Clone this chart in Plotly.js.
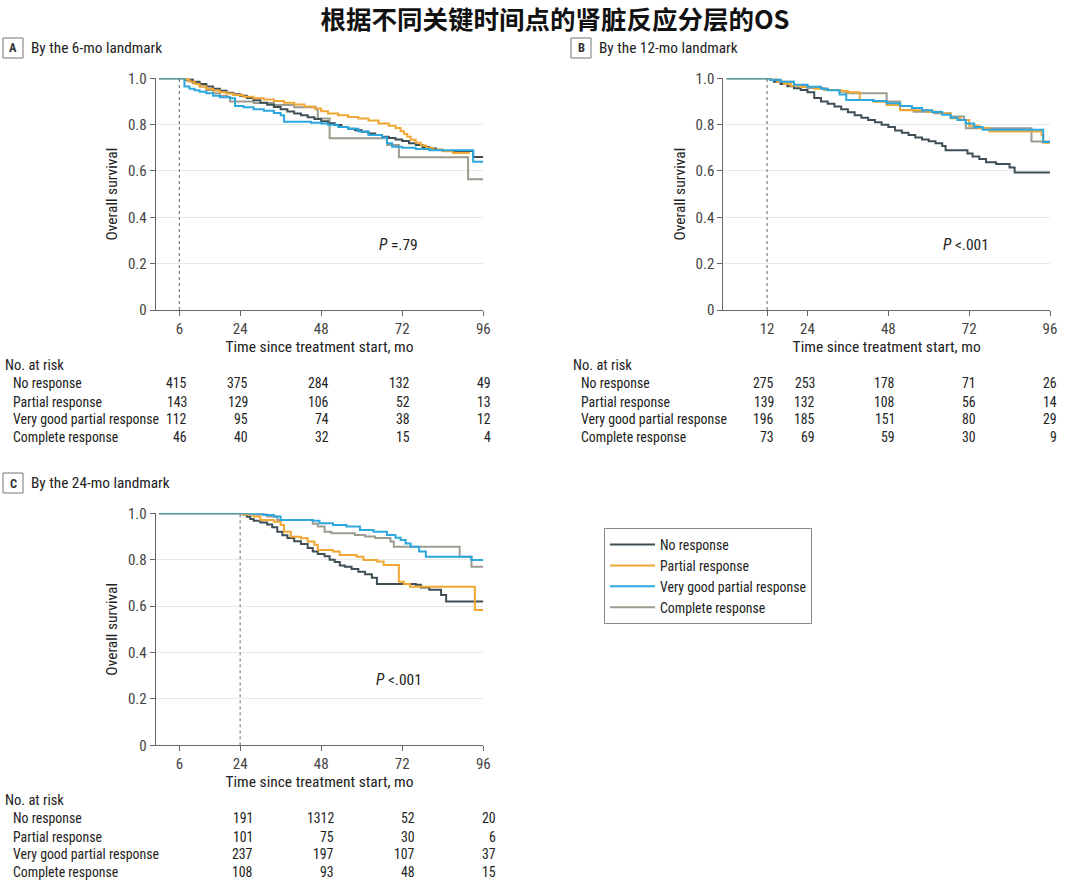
<!DOCTYPE html>
<html>
<head>
<meta charset="utf-8">
<script src="https://cdn.plot.ly/plotly-3.0.1.min.js"></script>
<style>html,body{margin:0;padding:0;background:#fff;}#chart{width:1080px;height:882px;}</style>
</head>
<body>
<div id="chart"></div>
<script>
// ---------------- DATA ----------------
const groups = ['No response', 'Partial response', 'Very good partial response', 'Complete response'];
const landmarks = [6, 12, 24];
const pTexts = ['<i>P</i> =.79', '<i>P</i> <.001', '<i>P</i> <.001'];

// Panel A (6-mo landmark)
const aNoT = [0, 8, 10, 12, 14, 16, 18, 20, 22, 24, 26, 28, 30, 32, 34, 36, 38, 40, 42, 44, 46, 48, 50, 52, 54, 56, 58, 60, 62, 64, 66, 68, 70, 72, 74, 76, 78, 80, 82, 84, 93, 96];
const aNoS = [1, 0.995, 0.985, 0.975, 0.965, 0.955, 0.946, 0.938, 0.931, 0.925, 0.915, 0.905, 0.895, 0.886, 0.876, 0.866, 0.857, 0.848, 0.84, 0.832, 0.824, 0.815, 0.806, 0.798, 0.79, 0.782, 0.776, 0.769, 0.762, 0.755, 0.748, 0.742, 0.736, 0.729, 0.72, 0.712, 0.704, 0.697, 0.692, 0.686, 0.66, 0.66];
const aPrT = [0, 8, 9, 10.5, 12, 14, 16, 18, 20, 22, 25, 28, 31, 34, 37, 40, 43, 46, 48, 50, 53, 56, 59, 62, 65, 68, 70, 71.5, 72.5, 73.5, 74.5, 76, 77.5, 79, 81, 84, 87, 92];
const aPrS = [1, 0.995, 0.985, 0.975, 0.965, 0.955, 0.947, 0.94, 0.934, 0.928, 0.92, 0.914, 0.908, 0.902, 0.895, 0.887, 0.878, 0.87, 0.858, 0.848, 0.84, 0.833, 0.826, 0.818, 0.805, 0.795, 0.785, 0.772, 0.76, 0.748, 0.735, 0.722, 0.71, 0.7, 0.692, 0.685, 0.678, 0.678];
const aVgT = [0, 7.5, 9, 10.5, 12, 14, 16, 18, 21, 22.5, 25, 28, 31, 34, 36, 37, 45, 48, 50, 53, 56, 59, 62, 66, 67.5, 69, 72, 76, 80, 93, 96];
const aVgS = [1, 0.965, 0.955, 0.948, 0.942, 0.935, 0.925, 0.918, 0.914, 0.88, 0.875, 0.866, 0.86, 0.85, 0.84, 0.812, 0.808, 0.805, 0.8, 0.79, 0.782, 0.77, 0.755, 0.745, 0.72, 0.705, 0.7, 0.695, 0.69, 0.64, 0.64];
const aCrT = [0, 8, 10, 12, 14, 16, 18, 20, 21, 28, 34, 40, 46.5, 47, 50.5, 67.5, 71, 91.5, 96];
const aCrS = [1, 0.99, 0.98, 0.965, 0.95, 0.935, 0.925, 0.92, 0.9, 0.893, 0.885, 0.875, 0.865, 0.827, 0.741, 0.712, 0.659, 0.564, 0.564];

// Panel B (12-mo landmark)
const bNoT = [0, 13, 14, 16, 18, 20, 22, 24, 26, 28, 30, 32, 34, 36, 38, 40, 42, 44, 46, 48, 50, 52, 54, 56, 58, 60, 62, 64, 65, 71.5, 73, 75, 77, 80, 84, 85.5, 96];
const bNoS = [1, 0.993, 0.985, 0.975, 0.966, 0.957, 0.95, 0.94, 0.915, 0.9, 0.89, 0.878, 0.866, 0.853, 0.84, 0.83, 0.82, 0.81, 0.8, 0.79, 0.775, 0.765, 0.755, 0.744, 0.736, 0.728, 0.72, 0.708, 0.69, 0.675, 0.662, 0.652, 0.638, 0.63, 0.615, 0.593, 0.593];
const bPrT = [0, 13, 15, 17, 19, 22, 26, 30, 34, 36, 39.5, 43.5, 47.5, 51.5, 59.5, 63.5, 66.5, 69.5, 72, 75, 78, 93.5, 94, 96];
const bPrS = [1, 0.995, 0.985, 0.975, 0.968, 0.962, 0.955, 0.95, 0.945, 0.94, 0.906, 0.899, 0.885, 0.862, 0.856, 0.848, 0.828, 0.82, 0.795, 0.785, 0.77, 0.755, 0.722, 0.722];
const bVgT = [0, 13, 16, 20, 24, 28, 30, 33.5, 35.5, 43.5, 47.5, 51.5, 55, 58, 61, 64, 66.5, 68.5, 71, 73.5, 76, 94, 96];
const bVgS = [1, 0.993, 0.985, 0.972, 0.963, 0.955, 0.948, 0.93, 0.906, 0.902, 0.892, 0.88, 0.872, 0.862, 0.855, 0.843, 0.83, 0.82, 0.805, 0.79, 0.778, 0.725, 0.725];
const bCrT = [0, 13, 16, 20, 24, 29, 33.5, 35.5, 45.5, 47.5, 51.5, 55.5, 61.5, 66.5, 70.5, 71, 90.5, 96];
const bCrS = [1, 0.995, 0.985, 0.97, 0.958, 0.95, 0.942, 0.935, 0.935, 0.9, 0.863, 0.856, 0.849, 0.835, 0.82, 0.784, 0.727, 0.727];

// Panel C (24-mo landmark)
const cNoT = [0, 25, 26, 27, 28, 30, 32, 33.5, 35, 36.5, 38, 40, 42, 44, 45.5, 47, 49, 50.5, 52, 53.5, 55, 57, 59, 61, 63, 64.5, 76, 77.5, 80, 83.5, 85, 96];
const cNoS = [1, 0.995, 0.985, 0.975, 0.968, 0.96, 0.952, 0.94, 0.92, 0.905, 0.893, 0.88, 0.868, 0.85, 0.835, 0.825, 0.815, 0.8, 0.79, 0.775, 0.77, 0.76, 0.748, 0.737, 0.722, 0.695, 0.692, 0.68, 0.67, 0.648, 0.62, 0.62];
const cPrT = [0, 25, 28, 30, 34, 36, 37, 39, 42, 44, 46, 47, 51.5, 53.5, 58.5, 60.5, 64.5, 66.5, 70.5, 71, 72.5, 74.3, 93.5, 96];
const cPrS = [1, 0.995, 0.986, 0.971, 0.964, 0.95, 0.921, 0.899, 0.892, 0.878, 0.864, 0.842, 0.835, 0.82, 0.813, 0.799, 0.792, 0.777, 0.777, 0.705, 0.695, 0.683, 0.583, 0.583];
const cVgT = [0, 27, 31, 34, 36, 45.5, 47.5, 51.5, 55.5, 59.5, 63.5, 67.5, 70, 71.5, 73, 74.5, 77, 79, 92.5, 96];
const cVgS = [1, 0.998, 0.993, 0.986, 0.971, 0.968, 0.957, 0.95, 0.943, 0.928, 0.921, 0.907, 0.895, 0.885, 0.87, 0.856, 0.835, 0.813, 0.799, 0.799];
const cCrT = [0, 27, 32, 35, 45.5, 47, 49, 51, 58, 61, 64, 68.5, 69.5, 89, 92.5, 96];
const cCrS = [1, 0.995, 0.986, 0.971, 0.955, 0.943, 0.921, 0.914, 0.907, 0.9, 0.893, 0.878, 0.856, 0.813, 0.77, 0.77];

// Number at risk tables
const riskTimesA = [6, 24, 48, 72, 96];
const riskA_No = [415, 375, 284, 132, 49];
const riskA_Pr = [143, 129, 106, 52, 13];
const riskA_Vg = [112, 95, 74, 38, 12];
const riskA_Cr = [46, 40, 32, 15, 4];
const riskTimesB = [12, 24, 48, 72, 96];
const riskB_No = [275, 253, 178, 71, 26];
const riskB_Pr = [139, 132, 108, 56, 14];
const riskB_Vg = [196, 185, 151, 80, 29];
const riskB_Cr = [73, 69, 59, 30, 9];
const riskTimesC = [24, 48, 72, 96];
const riskC_No = [191, 1312, 52, 20];
const riskC_Pr = [101, 75, 30, 6];
const riskC_Vg = [237, 197, 107, 37];
const riskC_Cr = [108, 93, 48, 15];

const xTicksA = [6, 24, 48, 72, 96];
const xTicksB = [12, 24, 48, 72, 96];
const xTicksC = [6, 24, 48, 72, 96];
const yTicks = [0, 0.2, 0.4, 0.6, 0.8, 1.0];
const yTickText = ['0', '0.2', '0.4', '0.6', '0.8', '1.0'];

// ---------------- STYLE ----------------
const W = 1080, H = 882;
const FONT = '"Roboto Condensed", "Liberation Sans Narrow", "DejaVu Sans Condensed", Roboto, sans-serif';
const colors = ['#3f4f56', '#f0a733', '#2ca8df', '#9c9b90'];
const px = v => v / W;
const py = v => 1 - v / H;

const traces = [];
function addPanel(xa, ya, sets, showLeg) {
  const order = [3, 0, 1, 2];
  order.forEach(i => {
    traces.push({
      x: sets[i][0], y: sets[i][1], type: 'scatter', mode: 'lines',
      line: {shape: 'hv', color: colors[i], width: 2},
      xaxis: xa, yaxis: ya, name: groups[i], legendgroup: groups[i],
      legendrank: i + 1, showlegend: showLeg, cliponaxis: false, hoverinfo: 'skip'
    });
  });
}
addPanel('x', 'y', [[aNoT, aNoS], [aPrT, aPrS], [aVgT, aVgS], [aCrT, aCrS]], false);
addPanel('x2', 'y2', [[bNoT, bNoS], [bPrT, bPrS], [bVgT, bVgS], [bCrT, bCrS]], false);
addPanel('x3', 'y3', [[cNoT, cNoS], [cPrT, cPrS], [cVgT, cVgS], [cCrT, cCrS]], true);

function xAxis(domain, ticks, anchor) {
  return {
    domain: domain, range: [-1, 96], tickvals: ticks, ticks: 'outside', ticklen: 5,
    tickcolor: '#666', showline: true, linecolor: '#666', linewidth: 1,
    showgrid: false, zeroline: false, anchor: anchor, automargin: false,
    tickfont: {size: 15, color: '#444'},
    title: {text: 'Time since treatment start, mo', font: {size: 15.5, color: '#222'}, standoff: 3}
  };
}
function yAxis(domain, anchor) {
  return {
    domain: domain, range: [0, 1], tickvals: yTicks, ticktext: yTickText,
    ticks: 'outside', ticklen: 5, tickcolor: '#666', showline: true, linecolor: '#666',
    linewidth: 1, showgrid: true, gridcolor: '#e9e9e9', gridwidth: 1, zeroline: false,
    anchor: anchor, automargin: false, tickfont: {size: 15, color: '#444'},
    title: {text: 'Overall survival', font: {size: 15.5, color: '#222'}, standoff: 6}
  };
}

const domXA = [px(155.7), px(483.3)];
const domXB = [px(723.3), px(1050)];
const domYtop = [py(310), py(78.3)];
const domYbot = [py(745.3), py(513.3)];

const annotations = [];
const shapes = [];

const panelLabels = [
  {letter: 'A', text: 'By the 6-mo landmark', bx: 3, by: 38},
  {letter: 'B', text: 'By the 12-mo landmark', bx: 571, by: 38},
  {letter: 'C', text: 'By the 24-mo landmark', bx: 3, by: 473}
];
panelLabels.forEach(p => {
  shapes.push({type: 'rect', xref: 'paper', yref: 'paper', x0: px(p.bx), x1: px(p.bx + 20),
    y0: py(p.by + 20), y1: py(p.by), line: {color: '#777', width: 1}, fillcolor: 'rgba(0,0,0,0)'});
  annotations.push({xref: 'paper', yref: 'paper', x: px(p.bx + 10), y: py(p.by + 10), xanchor: 'center',
    yanchor: 'middle', text: '<b>' + p.letter + '</b>', showarrow: false, font: {size: 12.5, color: '#333'}});
  annotations.push({xref: 'paper', yref: 'paper', x: px(p.bx + 26), y: py(p.by + 10), xanchor: 'left',
    yanchor: 'middle', text: p.text, showarrow: false, font: {size: 15.3, color: '#222'}});
});

[['x', 'y'], ['x2', 'y2'], ['x3', 'y3']].forEach((ax, i) => {
  shapes.push({type: 'line', xref: ax[0], yref: ax[1], x0: landmarks[i], x1: landmarks[i], y0: 0, y1: 1,
    line: {color: '#666', width: 1, dash: 'dot'}});
  annotations.push({xref: ax[0], yref: ax[1], x: 71, y: 0.28, text: pTexts[i], showarrow: false,
    xanchor: 'center', yanchor: 'middle', font: {size: 15.5, color: '#222'}});
});

function addTable(xref, times, rows, headX, labX, headY, rowYs, shift) {
  annotations.push({xref: 'paper', yref: 'paper', x: px(headX), y: py(headY), xanchor: 'left', yanchor: 'middle',
    text: 'No. at risk', showarrow: false, font: {size: 14.5, color: '#222'}});
  rows.forEach((vals, r) => {
    annotations.push({xref: 'paper', yref: 'paper', x: px(labX), y: py(rowYs[r]), xanchor: 'left', yanchor: 'middle',
      text: groups[r], showarrow: false, font: {size: 13.8, color: '#222'}});
    vals.forEach((v, k) => {
      annotations.push({xref: xref, yref: 'paper', x: times[k], y: py(rowYs[r]), xanchor: 'right', yanchor: 'middle',
        xshift: shift, text: String(v), showarrow: false, font: {size: 13.8, color: '#222'}});
    });
  });
}
addTable('x', riskTimesA, [riskA_No, riskA_Pr, riskA_Vg, riskA_Cr], 3, 11, 365, [383.3, 401.5, 419.3, 437.3], 10);
addTable('x2', riskTimesB, [riskB_No, riskB_Pr, riskB_Vg, riskB_Cr], 571, 579, 365, [383.3, 401.5, 419.3, 437.3], 9);
addTable('x3', riskTimesC, [riskC_No, riskC_Pr, riskC_Vg, riskC_Cr], 3, 11, 800, [818.3, 836.5, 854.3, 872.3], 15);

const layout = {
  width: W, height: H,
  margin: {l: 0, r: 0, t: 0, b: 0},
  paper_bgcolor: '#fff', plot_bgcolor: '#fff',
  font: {family: FONT, color: '#222'},
  title: {text: '<b>根据不同关键时间点的肾脏反应分层的OS</b>', x: px(555), xanchor: 'center', y: py(20), yanchor: 'middle',
    font: {family: '"Noto Sans CJK SC", sans-serif', size: 25.5, color: '#111'}},
  xaxis: xAxis(domXA, xTicksA, 'y'),
  yaxis: yAxis(domYtop, 'x'),
  xaxis2: xAxis(domXB, xTicksB, 'y2'),
  yaxis2: yAxis(domYtop, 'x2'),
  xaxis3: xAxis(domXA, xTicksC, 'y3'),
  yaxis3: yAxis(domYbot, 'x3'),
  showlegend: true,
  legend: {x: px(604), y: py(528), xanchor: 'left', yanchor: 'top', bgcolor: '#fff',
    bordercolor: '#888', borderwidth: 1, font: {size: 13.8, color: '#222'}, tracegroupgap: 0,
    traceorder: 'normal', itemwidth: 45},
  annotations: annotations,
  shapes: shapes
};

Plotly.newPlot('chart', traces, layout, {staticPlot: true, displayModeBar: false});
</script>
</body>
</html>
